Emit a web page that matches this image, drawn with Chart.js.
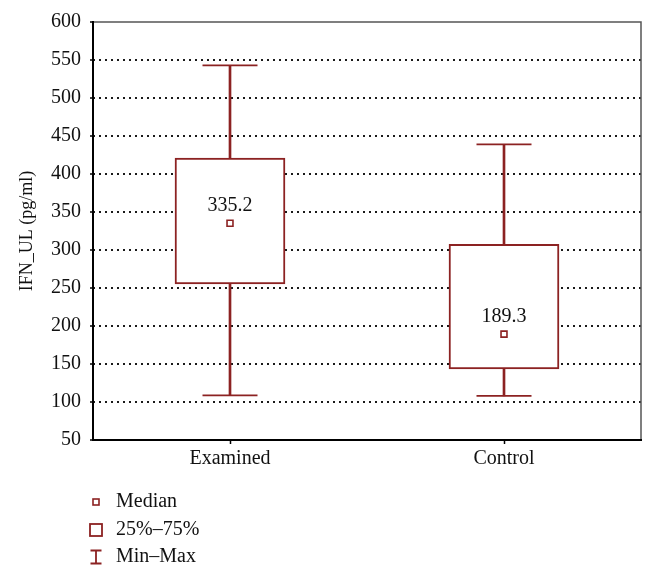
<!DOCTYPE html>
<html>
<head>
<meta charset="utf-8">
<script src="https://cdn.jsdelivr.net/npm/chart.js@4/dist/chart.umd.min.js"></script>
<style>
html,body{margin:0;padding:0;background:#fff;}
canvas{display:block;}
</style>
</head>
<body>
<canvas id="c" width="656" height="579"></canvas>
<script>
// ---- data ----
const categories = ["Examined", "Control"];
const minValues = [108.8, 108.0];
const q1Values = [255.3, 143.4];
const medianValues = [335.2, 189.3];
const q3Values = [421.0, 307.5];
const maxValues = [543.0, 439.0];
const yTicks = [50, 100, 150, 200, 250, 300, 350, 400, 450, 500, 550, 600];
const legendLabels = ["Median", "25%\u201375%", "Min\u2013Max"];

const MAROON = "#8c2222";
const FONT = "'Liberation Serif', 'Times New Roman', serif";

const boxData = q1Values.map((q, i) => [q, q3Values[i]]);
const whiskerData = minValues.map((m, i) => [m, maxValues[i]]);

// keep the wide whisker caps from enlarging the layout padding
Chart.registry.getController("line").prototype.getMaxOverflow = function () { return 0; };

const extrasPlugin = {
  id: "extras",
  afterDatasetsDraw(chart) {
    const ctx = chart.ctx;
    const xs = chart.scales.x, ys = chart.scales.y;
    const a = chart.chartArea;
    ctx.save();
    // frame
    ctx.lineCap = "butt";
    ctx.strokeStyle = "#555";
    ctx.lineWidth = 1.5;
    ctx.beginPath();
    ctx.moveTo(a.left, a.top); ctx.lineTo(a.right, a.top); ctx.lineTo(a.right, a.bottom);
    ctx.stroke();
    ctx.strokeStyle = "#000";
    ctx.lineWidth = 2;
    ctx.beginPath();
    ctx.moveTo(a.left, a.top - 1); ctx.lineTo(a.left, a.bottom); ctx.lineTo(a.right + 1, a.bottom);
    ctx.stroke();
    // median labels
    ctx.fillStyle = "#111";
    ctx.font = "20px " + FONT;
    ctx.textAlign = "center";
    ctx.textBaseline = "middle";
    medianValues.forEach((v, i) => {
      const x = xs.getPixelForValue(i);
      const y = ys.getPixelForValue(v);
      ctx.fillText(v.toFixed(1), x, y - 17);
    });
    // legend
    const lx = 96, tx = 116;
    const rows = [502, 530, 557];
    ctx.textAlign = "left";
    ctx.strokeStyle = MAROON;
    ctx.lineWidth = 1.6;
    ctx.strokeRect(lx - 3, rows[0] - 3, 6, 6);
    ctx.lineWidth = 1.8;
    ctx.strokeRect(lx - 6, rows[1] - 6, 12, 12);
    ctx.beginPath();
    ctx.moveTo(lx - 5.5, rows[2] - 6.5); ctx.lineTo(lx + 5.5, rows[2] - 6.5);
    ctx.moveTo(lx, rows[2] - 6.5); ctx.lineTo(lx, rows[2] + 6.5);
    ctx.moveTo(lx - 5.5, rows[2] + 6.5); ctx.lineTo(lx + 5.5, rows[2] + 6.5);
    ctx.stroke();
    ctx.fillStyle = "#111";
    legendLabels.forEach((t, i) => ctx.fillText(t, tx, rows[i]));
    ctx.restore();
  }
};

new Chart(document.getElementById("c"), {
  type: "bar",
  data: {
    labels: categories,
    datasets: [
      {
        label: "Min-Max",
        data: whiskerData,
        backgroundColor: MAROON,
        borderWidth: 0,
        barThickness: 2,
        grouped: false,
        order: 3
      },
      {
        label: "25%-75%",
        data: boxData,
        backgroundColor: "#ffffff",
        borderColor: MAROON,
        borderWidth: 2,
        borderSkipped: false,
        barThickness: 110,
        grouped: false,
        order: 2
      },
      {
        type: "line",
        label: "Max",
        data: maxValues,
        showLine: false,
        pointStyle: "line",
        pointRadius: 27.5,
        pointBorderWidth: 1.7,
        pointBorderColor: MAROON,
        clip: false,
        order: 1
      },
      {
        type: "line",
        label: "Min",
        data: minValues,
        showLine: false,
        pointStyle: "line",
        pointRadius: 27.5,
        pointBorderWidth: 1.7,
        pointBorderColor: MAROON,
        clip: false,
        order: 1
      },
      {
        type: "line",
        label: "Median",
        data: medianValues,
        showLine: false,
        pointStyle: "rect",
        pointRadius: 4.2,
        pointBorderWidth: 1.6,
        pointBorderColor: MAROON,
        pointBackgroundColor: "#ffffff",
        clip: false,
        order: 0
      }
    ]
  },
  options: {
    responsive: false,
    animation: false,
    events: [],
    layout: { padding: { left: 12, right: 15, top: 22, bottom: 99 } },
    plugins: { legend: { display: false }, tooltip: { enabled: false } },
    scales: {
      x: {
        offset: true,
        grid: {
          offset: false,
          drawOnChartArea: false,
          drawTicks: true,
          tickLength: 4,
          tickColor: "#000",
          tickWidth: 1.5
        },
        border: { display: false },
        ticks: { color: "#111", font: { family: FONT, size: 20 }, padding: 3 },
        afterFit(s) { s.height = 40; }
      },
      y: {
        min: 50,
        max: 600,
        afterBuildTicks(s) { s.ticks = yTicks.map(v => ({ value: v })); },
        grid: {
          color: (c) => (c.tick && (c.tick.value === 50 || c.tick.value === 600)) ? "rgba(0,0,0,0)" : "#1a1a1a",
          lineWidth: 2,
          drawTicks: true,
          tickLength: 3,
          tickColor: "#000",
          tickWidth: 1.5
        },
        border: { display: false, dash: [2, 4] },
        ticks: { color: "#111", font: { family: FONT, size: 20 }, padding: 9 },
        title: {
          display: true,
          text: "IFN_UL (pg/ml)",
          color: "#111",
          font: { family: FONT, size: 18 },
          padding: { top: 4, bottom: 0 }
        },
        afterFit(s) { s.width = 81; }
      }
    }
  },
  plugins: [extrasPlugin]
});
</script>
</body>
</html>
